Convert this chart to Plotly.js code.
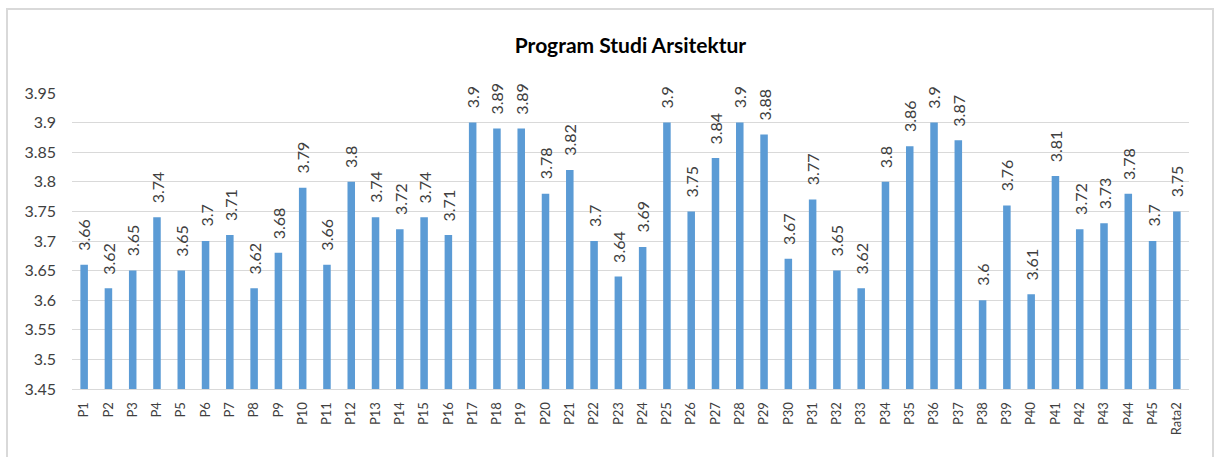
<!DOCTYPE html>
<html>
<head>
<meta charset="utf-8">
<script src="https://cdn.plot.ly/plotly-3.0.1.min.js"></script>
<style>html,body{margin:0;padding:0;background:#fff;}#chart{width:1218px;height:457px;}</style>
</head>
<body>
<div id="chart"></div>
<script>
var categories = ["P1","P2","P3","P4","P5","P6","P7","P8","P9","P10","P11","P12","P13","P14","P15","P16","P17","P18","P19","P20","P21","P22","P23","P24","P25","P26","P27","P28","P29","P30","P31","P32","P33","P34","P35","P36","P37","P38","P39","P40","P41","P42","P43","P44","P45","Rata2"];
var values = [3.66,3.62,3.65,3.74,3.65,3.7,3.71,3.62,3.68,3.79,3.66,3.8,3.74,3.72,3.74,3.71,3.9,3.89,3.89,3.78,3.82,3.7,3.64,3.69,3.9,3.75,3.84,3.9,3.88,3.67,3.77,3.65,3.62,3.8,3.86,3.9,3.87,3.6,3.76,3.61,3.81,3.72,3.73,3.78,3.7,3.75];
var yTicks = [3.45,3.5,3.55,3.6,3.65,3.7,3.75,3.8,3.85,3.9,3.95];
var titleText = "Program Studi Arsitektur";

var FONT = "Lato, 'Liberation Sans', sans-serif";
var trace = {
  type: "bar",
  x: categories,
  y: values,
  marker: {color: "#5B9BD5"},
  width: 0.31,
  cliponaxis: true,
  hoverinfo: "x+y"
};
var annotations = categories.map(function (c, i) {
  return {
    x: c, y: values[i], xref: "x", yref: "y",
    text: String(values[i]),
    showarrow: false,
    textangle: -90,
    xanchor: "center", yanchor: "bottom",
    yshift: 12,
    font: {family: FONT, size: 16, color: "#404040"}
  };
});
var layout = {
  width: 1218, height: 457,
  margin: {l: 72, r: 29, t: 93, b: 68},
  paper_bgcolor: "#ffffff", plot_bgcolor: "#ffffff",
  showlegend: false,
  title: {text: "<b>" + titleText + "</b>", font: {family: FONT, size: 21, color: "#000000"}, x: 0.5, xanchor: "center", y: 0.9, yanchor: "middle", xref: "paper"},
  xaxis: {
    type: "category",
    tickangle: -90,
    tickfont: {family: FONT, size: 13, color: "#404040"},
    showgrid: false,
    showline: true, linecolor: "#d9d9d9", linewidth: 1,
    ticks: "", ticklen: 0,
    ticklabelstandoff: 7,
    fixedrange: true
  },
  yaxis: {
    range: [3.45, 3.95],
    tickvals: yTicks,
    ticktext: yTicks.map(String),
    tickfont: {family: FONT, size: 16, color: "#404040"},
    showgrid: true, gridcolor: "#d9d9d9", gridwidth: 1,
    zeroline: false, showline: false,
    ticks: "", ticklabelstandoff: 15,
    fixedrange: true
  },
  annotations: annotations,
  shapes: [{
    type: "rect", xref: "paper", yref: "paper",
    x0: -0.0582, x1: 1.0215, y0: -0.25, y1: 1.284,
    line: {color: "#d9d9d9", width: 2}, fillcolor: "rgba(0,0,0,0)", layer: "below"
  }]
};
Plotly.newPlot("chart", [trace], layout, {displayModeBar: false, staticPlot: true});
</script>
</body>
</html>
